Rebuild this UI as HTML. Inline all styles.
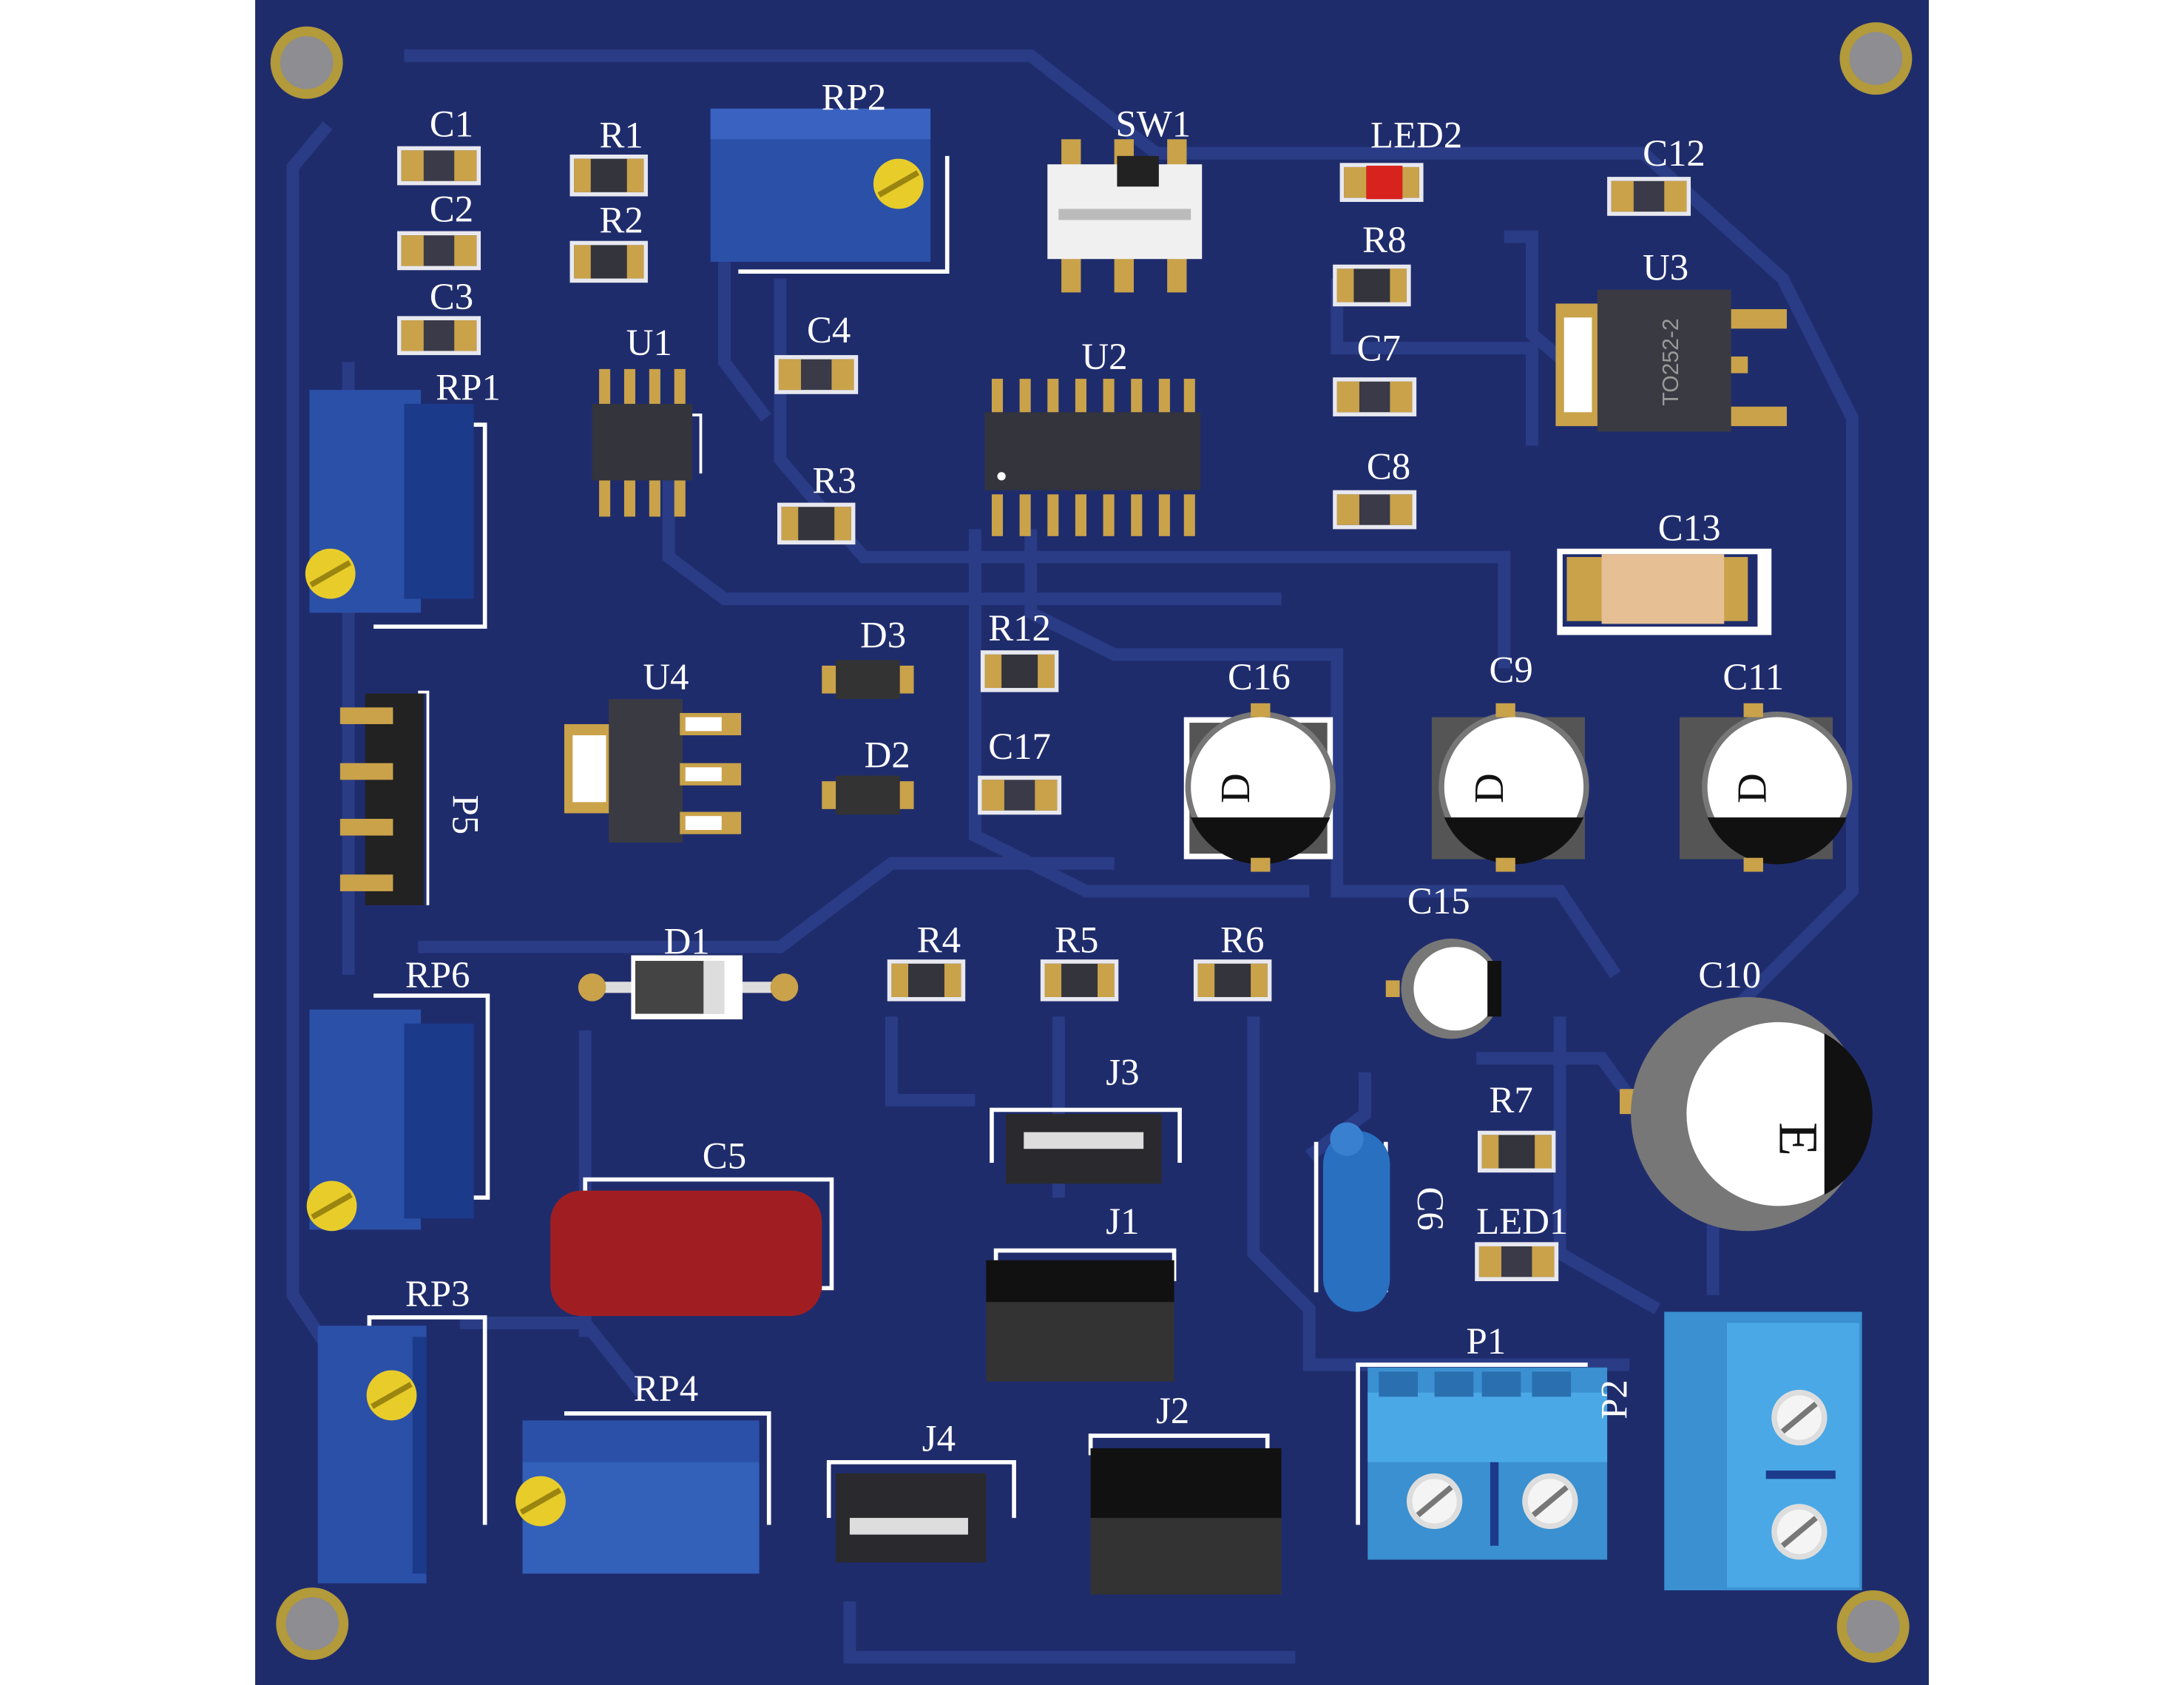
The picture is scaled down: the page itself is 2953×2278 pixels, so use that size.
<!DOCTYPE html>
<html><head><meta charset="utf-8"><style>
html,body{margin:0;padding:0;background:#fff;}
svg{display:block;}
text{font-family:"Liberation Serif",serif;fill:#fff;font-size:27px;text-anchor:middle;}
</style></head><body>
<svg width="2953" height="2278" viewBox="0 0 1568 1210" xmlns="http://www.w3.org/2000/svg">
<defs>
<g id="smd"><rect x="-30" y="-14" width="60" height="28" fill="#e8e8f0"/><rect x="-27" y="-11" width="54" height="22" fill="#3a3a48"/><rect x="-27" y="-11" width="16" height="22" fill="#c9a24a"/><rect x="11" y="-11" width="16" height="22" fill="#c9a24a"/></g>
<g id="res"><rect x="-28" y="-15" width="56" height="30" fill="#e8e8f0"/><rect x="-25" y="-12" width="50" height="24" fill="#33343c"/><rect x="-25" y="-12" width="12" height="24" fill="#c9a24a"/><rect x="13" y="-12" width="12" height="24" fill="#c9a24a"/></g>
<g id="hole"><circle r="26" fill="#b39a3a"/><circle r="19" fill="#8d8d92"/></g>
<g id="screw"><circle r="18" fill="#e8cc2a"/><line x1="-14" y1="8" x2="14" y2="-8" stroke="#9a8510" stroke-width="4"/></g>
<g id="wscrew"><circle r="20" fill="#ddd"/><circle r="16" fill="#f4f4f4"/><line x1="-12" y1="10" x2="12" y2="-10" stroke="#777" stroke-width="4"/></g>
<g id="elec"><circle r="54" fill="#777"/><circle r="50" fill="#fff"/><path d="M-50,22 A54,54 0 0 0 50,22 Z" fill="#111"/></g>
</defs>
<rect x="183" y="0" width="1202" height="1210" fill="#1f2c6c"/>
<g fill="none" stroke="#2a3c86" stroke-width="9">
<path d="M290,40 L740,40 L830,110 L1180,110 L1280,200 L1330,300 L1330,640 L1250,720"/>
<path d="M235,90 L210,120 L210,930 L250,990"/>
<path d="M250,260 L250,700"/>
<path d="M560,200 L560,330 L620,400 L1080,400 L1080,480"/>
<path d="M480,330 L480,400 L520,430 L920,430"/>
<path d="M520,140 L520,260 L550,300"/>
<path d="M740,380 L740,440 L800,470 L960,470 L960,640 L1120,640 L1160,700"/>
<path d="M700,380 L700,600 L780,640 L940,640"/>
<path d="M420,740 L420,960"/>
<path d="M300,680 L560,680 L640,620 L800,620"/>
<path d="M640,730 L640,790 L700,790"/>
<path d="M900,730 L900,900 L940,940 L940,980 L1170,980"/>
<path d="M760,730 L760,860"/>
<path d="M1120,730 L1120,900 L1190,940"/>
<path d="M960,200 L960,250 L1100,250 L1100,320"/>
<path d="M1060,760 L1150,760 L1230,870 L1230,930"/>
<path d="M980,770 L980,800 L940,830"/>
<path d="M610,1150 L610,1190 L930,1190"/>
<path d="M330,950 L420,950 L460,1000"/>
<path d="M1080,170 L1100,170 L1100,240 L1160,290"/>
</g>
<use href="#hole" x="220" y="45"/><use href="#hole" x="1347" y="42"/><use href="#hole" x="224" y="1166"/><use href="#hole" x="1345" y="1168"/>

<!-- small SMD -->
<use href="#smd" x="315" y="119"/><use href="#smd" x="315" y="180"/><use href="#smd" x="315" y="241"/>
<use href="#res" x="437" y="126"/><use href="#res" x="437" y="188"/>
<use href="#smd" x="586" y="269"/><use href="#res" x="586" y="376"/>
<use href="#smd" x="992" y="131"/><rect x="981" y="119" width="26" height="24" fill="#d8221e"/>
<use href="#smd" x="1184" y="141"/><use href="#res" x="985" y="205"/>
<use href="#smd" x="987" y="285"/><use href="#smd" x="987" y="366"/>
<use href="#res" x="732" y="482"/><use href="#smd" x="732" y="571"/>
<use href="#res" x="665" y="704"/><use href="#res" x="775" y="704"/><use href="#res" x="885" y="704"/>
<use href="#res" x="1089" y="827"/><use href="#smd" x="1089" y="906"/>
<!-- diodes -->
<rect x="590" y="478" width="66" height="20" fill="#c9a24a"/><rect x="600" y="474" width="46" height="28" fill="#333"/>
<rect x="590" y="561" width="66" height="20" fill="#c9a24a"/><rect x="600" y="557" width="46" height="28" fill="#333"/>

<!-- RP2 -->
<path d="M530,195 L680,195 L680,112" stroke="#fff" stroke-width="3" fill="none"/>
<rect x="510" y="78" width="158" height="110" fill="#2b50a8"/><rect x="510" y="78" width="158" height="22" fill="#3a62c0"/>
<use href="#screw" x="645" y="132"/>
<!-- SW1 -->
<rect x="762" y="100" width="14" height="110" fill="#c9a24a"/><rect x="800" y="100" width="14" height="110" fill="#c9a24a"/><rect x="838" y="100" width="14" height="110" fill="#c9a24a"/>
<rect x="752" y="118" width="111" height="68" fill="#f0f0f0"/><rect x="802" y="112" width="30" height="22" fill="#222"/><rect x="760" y="150" width="95" height="8" fill="#bbb"/>
<!-- U3 -->
<rect x="1117" y="218" width="32" height="88" fill="#c9a24a"/><rect x="1123" y="228" width="20" height="68" fill="#fff"/>
<rect x="1147" y="208" width="96" height="102" fill="#3a3b42"/>
<rect x="1243" y="222" width="40" height="14" fill="#c9a24a"/><rect x="1243" y="292" width="40" height="14" fill="#c9a24a"/><rect x="1243" y="256" width="12" height="12" fill="#c9a24a"/>
<text x="1205" y="260" transform="rotate(-90 1205 260)" style="font-size:16px;fill:#999;font-family:'Liberation Sans',sans-serif">TO252-2</text>
<!-- U1 -->
<g fill="#c9a24a"><rect x="430" y="265" width="8" height="28"/><rect x="448" y="265" width="8" height="28"/><rect x="466" y="265" width="8" height="28"/><rect x="484" y="265" width="8" height="28"/><rect x="430" y="343" width="8" height="28"/><rect x="448" y="343" width="8" height="28"/><rect x="466" y="343" width="8" height="28"/><rect x="484" y="343" width="8" height="28"/></g>
<rect x="425" y="290" width="72" height="55" fill="#33343c"/><path d="M497,298 L503,298 L503,340" stroke="#fff" stroke-width="2" fill="none"/>
<!-- U2 -->
<g fill="#c9a24a" id="u2p"><rect x="712" y="272" width="8" height="28"/><rect x="732" y="272" width="8" height="28"/><rect x="752" y="272" width="8" height="28"/><rect x="772" y="272" width="8" height="28"/><rect x="792" y="272" width="8" height="28"/><rect x="812" y="272" width="8" height="28"/><rect x="832" y="272" width="8" height="28"/><rect x="850" y="272" width="8" height="28"/>
<rect x="712" y="355" width="8" height="30"/><rect x="732" y="355" width="8" height="30"/><rect x="752" y="355" width="8" height="30"/><rect x="772" y="355" width="8" height="30"/><rect x="792" y="355" width="8" height="30"/><rect x="812" y="355" width="8" height="30"/><rect x="832" y="355" width="8" height="30"/><rect x="850" y="355" width="8" height="30"/></g>
<rect x="707" y="296" width="155" height="56" fill="#33343c"/><circle cx="719" cy="342" r="3" fill="#fff"/>
<!-- RP1 -->
<path d="M268,450 L348,450 L348,305 L340,305" stroke="#fff" stroke-width="3" fill="none"/>
<rect x="222" y="280" width="80" height="160" fill="#2b50a8"/><rect x="290" y="290" width="50" height="140" fill="#1c3a8a"/>
<use href="#screw" x="237" y="412"/>
<!-- C13 -->
<rect x="1118" y="394" width="154" height="62" fill="#fff"/><rect x="1122" y="398" width="140" height="52" fill="#1f2c6c"/>
<rect x="1125" y="400" width="130" height="46" fill="#c9a24a"/><rect x="1150" y="398" width="88" height="50" fill="#e6bf95"/>
<!-- U4 -->
<rect x="405" y="520" width="34" height="64" fill="#c9a24a"/><rect x="411" y="528" width="24" height="48" fill="#fff"/>
<rect x="437" y="502" width="53" height="103" fill="#3a3b42"/>
<g fill="#c9a24a"><rect x="488" y="512" width="44" height="16"/><rect x="488" y="548" width="44" height="16"/><rect x="488" y="583" width="44" height="16"/></g>
<g fill="#fff"><rect x="492" y="515" width="26" height="10"/><rect x="492" y="551" width="26" height="10"/><rect x="492" y="586" width="26" height="10"/></g>
<!-- P5 -->
<path d="M300,497 L307,497 L307,650" stroke="#fff" stroke-width="2" fill="none"/>
<rect x="262" y="498" width="42" height="152" fill="#222"/>
<g fill="#c9a24a"><rect x="244" y="508" width="38" height="12"/><rect x="244" y="548" width="38" height="12"/><rect x="244" y="588" width="38" height="12"/><rect x="244" y="628" width="38" height="12"/></g>
<text x="325" y="585" transform="rotate(90 325 585)">P5</text>
<!-- electrolytics -->
<rect x="850" y="515" width="107" height="102" fill="#fff"/><rect x="854" y="519" width="99" height="94" fill="#555"/><use href="#elec" x="905" y="565"/><rect x="898" y="505" width="14" height="10" fill="#c9a24a"/><rect x="898" y="616" width="14" height="10" fill="#c9a24a"/>
<rect x="1028" y="515" width="110" height="102" fill="#555"/><use href="#elec" x="1087" y="565"/><rect x="1074" y="505" width="14" height="10" fill="#c9a24a"/><rect x="1074" y="616" width="14" height="10" fill="#c9a24a"/>
<rect x="1206" y="515" width="110" height="102" fill="#555"/><use href="#elec" x="1276" y="565"/><rect x="1252" y="505" width="14" height="10" fill="#c9a24a"/><rect x="1252" y="616" width="14" height="10" fill="#c9a24a"/>
<text x="897" y="566" transform="rotate(-90 897 566)" style="fill:#111;font-size:30px">D</text>
<text x="1079" y="566" transform="rotate(-90 1079 566)" style="fill:#111;font-size:30px">D</text>
<text x="1268" y="566" transform="rotate(-90 1268 566)" style="fill:#111;font-size:30px">D</text>
<!-- C15 -->
<rect x="995" y="704" width="10" height="12" fill="#c9a24a"/><circle cx="1042" cy="710" r="36" fill="#777"/><circle cx="1045" cy="710" r="30" fill="#fff"/><rect x="1068" y="690" width="10" height="40" fill="#111"/>
<!-- D1 -->
<line x1="425" y1="709" x2="565" y2="709" stroke="#ddd" stroke-width="8"/><circle cx="425" cy="709" r="10" fill="#c9a24a"/><circle cx="563" cy="709" r="10" fill="#c9a24a"/>
<rect x="453" y="686" width="80" height="46" fill="#fff"/><rect x="456" y="690" width="64" height="38" fill="#444"/><rect x="505" y="690" width="15" height="38" fill="#ddd"/>
<!-- RP6 -->
<path d="M268,715 L350,715 L350,860 L340,860" stroke="#fff" stroke-width="3" fill="none"/>
<rect x="222" y="725" width="80" height="158" fill="#2b50a8"/><rect x="290" y="735" width="50" height="140" fill="#1c3a8a"/>
<use href="#screw" x="238" y="866"/>
<!-- C10 -->
<rect x="1163" y="782" width="12" height="18" fill="#c9a24a"/>
<circle cx="1255" cy="800" r="84" fill="#777"/><circle cx="1277" cy="800" r="66" fill="#fff"/><path d="M1310,742 A66,66 0 0 1 1310,858 Z" fill="#111"/>
<text x="1278" y="818" transform="rotate(90 1278 818)" style="fill:#111;font-size:40px">E</text>
<!-- J3 -->
<path d="M712,835 L712,797 L847,797 L847,835" stroke="#fff" stroke-width="3" fill="none"/>
<rect x="722" y="800" width="112" height="50" fill="#2a2a2e"/><rect x="735" y="813" width="86" height="12" fill="#ddd"/>
<!-- C6 -->
<path d="M945,820 L945,928 M995,820 L995,928" stroke="#fff" stroke-width="3"/>
<rect x="950" y="812" width="48" height="130" rx="24" fill="#2a70c0"/><ellipse cx="967" cy="818" rx="12" ry="12" fill="#3a80d0"/>
<text x="1018" y="868" transform="rotate(90 1018 868)">C6</text>
<!-- C5 -->
<path d="M420,860 L420,847 L597,847 L597,925 L590,925" stroke="#fff" stroke-width="3" fill="none"/>
<rect x="395" y="855" width="195" height="90" rx="22" fill="#a01e22"/>
<!-- J1 -->
<path d="M715,910 L715,898 L843,898 L843,920" stroke="#fff" stroke-width="3" fill="none"/>
<rect x="708" y="905" width="135" height="87" fill="#333"/><rect x="708" y="905" width="135" height="30" fill="#111"/>
<!-- P1 -->
<path d="M975,1095 L975,980 L1140,980" stroke="#fff" stroke-width="3" fill="none"/>
<rect x="982" y="982" width="172" height="138" fill="#3a90d0"/><rect x="982" y="1000" width="172" height="50" fill="#4aa8e6"/>
<g fill="#2a70b0"><rect x="990" y="985" width="28" height="18"/><rect x="1030" y="985" width="28" height="18"/><rect x="1064" y="985" width="28" height="18"/><rect x="1100" y="985" width="28" height="18"/></g>
<use href="#wscrew" x="1030" y="1078"/><use href="#wscrew" x="1113" y="1078"/><rect x="1070" y="1050" width="6" height="60" fill="#1c3a8a"/>
<!-- P2 -->
<text x="1168" y="1005" transform="rotate(-90 1168 1005)">P2</text>
<rect x="1195" y="942" width="142" height="200" fill="#3a90d0"/><rect x="1240" y="950" width="95" height="190" fill="#4aa8e6"/>
<use href="#wscrew" x="1292" y="1018"/><use href="#wscrew" x="1292" y="1100"/><rect x="1268" y="1056" width="50" height="6" fill="#1c3a8a"/>
<!-- RP3 -->
<path d="M265,958 L265,946 L348,946 L348,1095" stroke="#fff" stroke-width="3" fill="none"/>
<rect x="228" y="952" width="78" height="185" fill="#2b50a8"/><rect x="296" y="960" width="10" height="170" fill="#1c3a8a"/>
<use href="#screw" x="281" y="1002"/>
<!-- RP4 -->
<path d="M405,1015 L552,1015 L552,1095" stroke="#fff" stroke-width="3" fill="none"/>
<rect x="375" y="1020" width="170" height="110" fill="#2b50a8"/><rect x="375" y="1050" width="170" height="80" fill="#3360b8"/>
<use href="#screw" x="388" y="1078"/>
<!-- J4 -->
<path d="M595,1090 L595,1050 L728,1050 L728,1090" stroke="#fff" stroke-width="3" fill="none"/>
<rect x="600" y="1058" width="108" height="64" fill="#2a2a2e"/><rect x="610" y="1090" width="85" height="12" fill="#ddd"/>
<!-- J2 -->
<path d="M783,1045 L783,1031 L910,1031 L910,1050" stroke="#fff" stroke-width="3" fill="none"/>
<rect x="783" y="1040" width="137" height="105" fill="#333"/><rect x="783" y="1040" width="137" height="50" fill="#111"/>

<!-- labels -->
<text x="324" y="98">C1</text><text x="324" y="159">C2</text><text x="324" y="222">C3</text>
<text x="446" y="106">R1</text><text x="446" y="167">R2</text>
<text x="613" y="79">RP2</text><text x="828" y="98">SW1</text><text x="1017" y="106">LED2</text><text x="1202" y="119">C12</text>
<text x="994" y="181">R8</text><text x="1196" y="201">U3</text><text x="990" y="259">C7</text><text x="997" y="344">C8</text>
<text x="466" y="255">U1</text><text x="595" y="246">C4</text><text x="793" y="265">U2</text><text x="336" y="287">RP1</text>
<text x="599" y="354">R3</text><text x="1213" y="388">C13</text><text x="634" y="465">D3</text><text x="732" y="460">R12</text>
<text x="478" y="495">U4</text><text x="637" y="551">D2</text><text x="732" y="545">C17</text>
<text x="904" y="495">C16</text><text x="1085" y="490">C9</text><text x="1259" y="495">C11</text>
<text x="1033" y="656">C15</text><text x="493" y="685">D1</text><text x="674" y="684">R4</text><text x="773" y="684">R5</text><text x="892" y="684">R6</text>
<text x="314" y="709">RP6</text><text x="1242" y="709">C10</text><text x="806" y="779">J3</text><text x="1085" y="799">R7</text>
<text x="520" y="839">C5</text><text x="806" y="886">J1</text><text x="1093" y="886">LED1</text>
<text x="1067" y="972">P1</text><text x="314" y="938">RP3</text><text x="478" y="1006">RP4</text><text x="674" y="1042">J4</text><text x="842" y="1022">J2</text>
</svg>
</body></html>
